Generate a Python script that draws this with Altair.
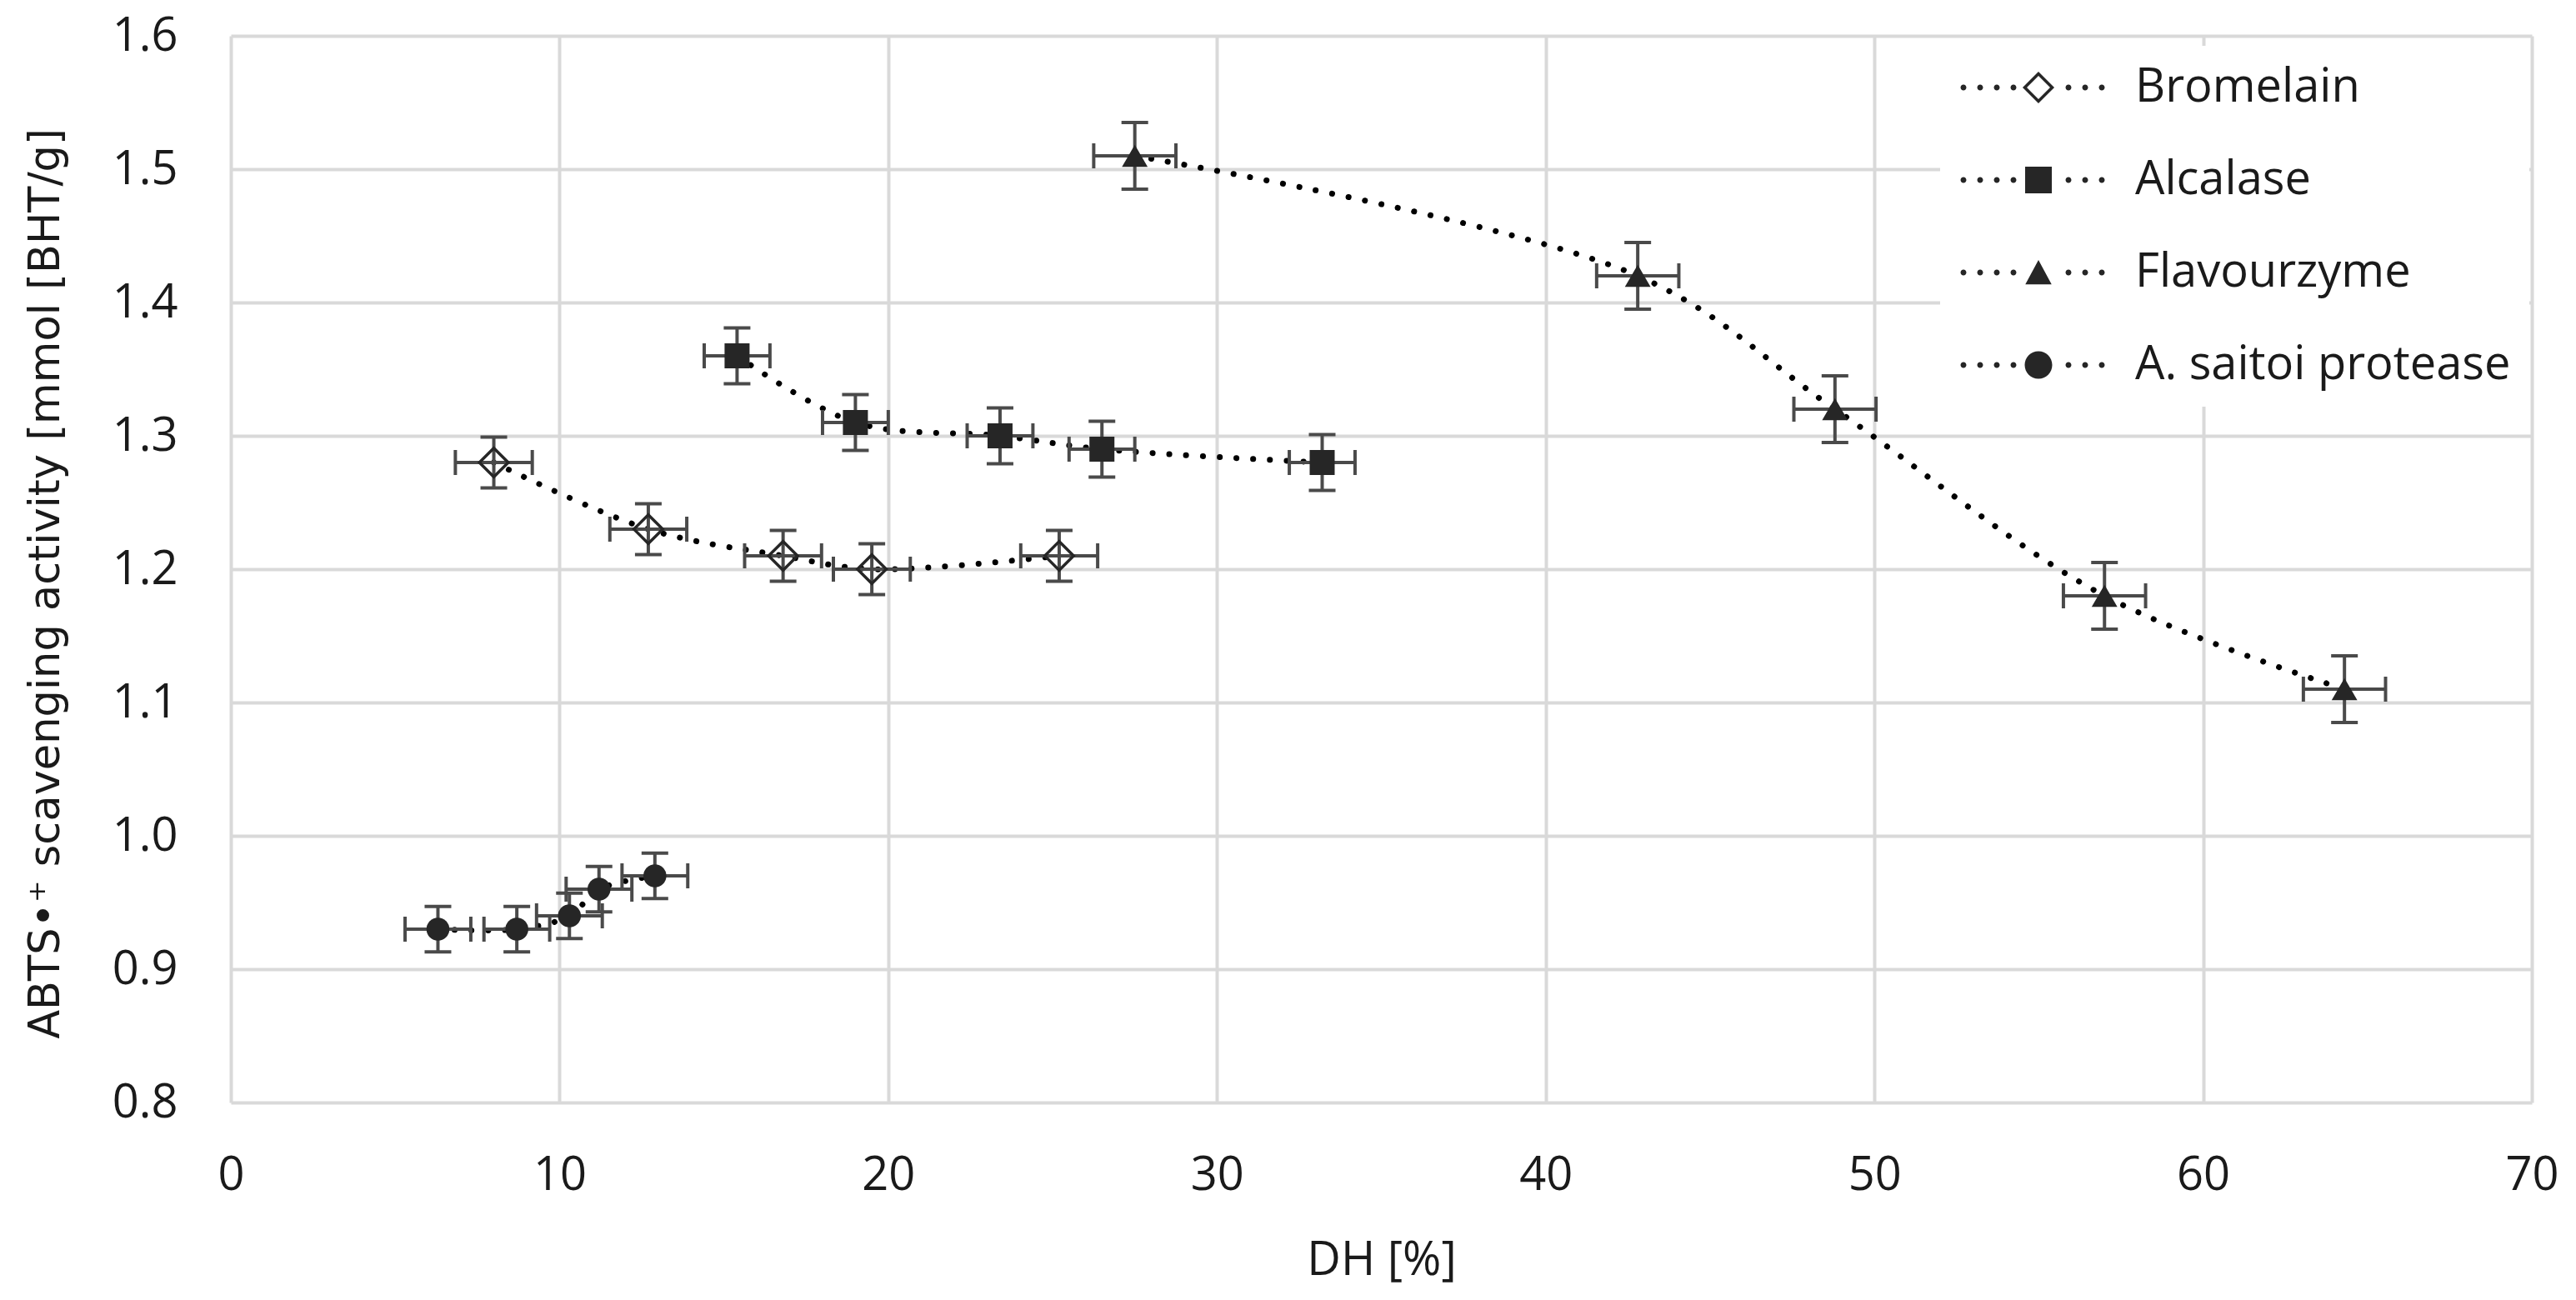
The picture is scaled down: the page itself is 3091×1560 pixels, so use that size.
import altair as alt
import pandas as pd

# ---------------- data ----------------
series_names = ["Bromelain", "Alcalase", "Flavourzyme", "A. saitoi protease"]

bromelain_dh = [8.0, 12.7, 16.8, 19.5, 25.2]
bromelain_abts = [1.28, 1.23, 1.21, 1.20, 1.21]

alcalase_dh = [15.4, 19.0, 23.4, 26.5, 33.2]
alcalase_abts = [1.36, 1.31, 1.30, 1.29, 1.28]

flavourzyme_dh = [27.5, 42.8, 48.8, 57.0, 64.3]
flavourzyme_abts = [1.51, 1.42, 1.32, 1.18, 1.11]

saitoi_dh = [6.3, 8.7, 10.3, 11.2, 12.9]
saitoi_abts = [0.93, 0.93, 0.94, 0.96, 0.97]

# error bar half-widths per series
dh_err = [1.17, 1.0, 1.25, 1.0]
abts_err = [0.019, 0.021, 0.025, 0.017]

x_ticks = [0, 10, 20, 30, 40, 50, 60, 70]
y_ticks = [0.8, 0.9, 1.0, 1.1, 1.2, 1.3, 1.4, 1.5, 1.6]

# ---------------- table ----------------
rows = []
for name, xs, ys, ex, ey in zip(
    series_names,
    [bromelain_dh, alcalase_dh, flavourzyme_dh, saitoi_dh],
    [bromelain_abts, alcalase_abts, flavourzyme_abts, saitoi_abts],
    dh_err,
    abts_err,
):
    for xv, yv in zip(xs, ys):
        rows.append(dict(series=name, dh=xv, abts=yv,
                         xlo=xv - ex, xhi=xv + ex, ylo=yv - ey, yhi=yv + ey))
df = pd.DataFrame(rows)

# ---------------- styling ----------------
FONT = "Open Sans"
TXT = "#1a1a1a"
GRID = "#d9d9d9"
EB = "#4a4a4a"
MK = "#262626"

XS = alt.Scale(domain=[0, 70], nice=False, zero=False)
YS = alt.Scale(domain=[0.8, 1.6], nice=False, zero=False)

x_axis = alt.Axis(
    values=x_ticks, title="DH [%]", grid=True, gridColor=GRID, gridWidth=4,
    domain=False, ticks=False, tickSize=0, labelFont=FONT, labelFontSize=56,
    labelColor=TXT, labelPadding=87, labelBaseline="middle", labelFlush=False,
    labelOverlap=False, titleFont=FONT, titleFontSize=56, titleColor=TXT,
    titleFontWeight="normal", titleX=1380.5, titleY=189, titleBaseline="middle",
    titleAlign="center",
)
y_axis = alt.Axis(
    values=y_ticks, format=".1f", title="ABTS•⁺ scavenging activity [mmol [BHT/g]",
    grid=True, gridColor=GRID, gridWidth=4, domain=False, ticks=False, tickSize=0,
    labelFont=FONT, labelFontSize=56, labelColor=TXT, labelPadding=64,
    labelOverlap=False, titleFont="DejaVu Sans", titleFontSize=51, titleColor=TXT,
    titleFontWeight="normal", titleX=-207, titleY=657, titleBaseline="alphabetic",
    titleAlign="center", titleAngle=270,
)


def X(field):
    return alt.X(f"{field}:Q", scale=XS, axis=x_axis)


def Y(field):
    return alt.Y(f"{field}:Q", scale=YS, axis=y_axis)


base = alt.Chart(df)

lines = base.mark_line(
    interpolate="catmull-rom", color="#000000", strokeWidth=7,
    strokeDash=[0.1, 20], strokeCap="round",
).encode(x=X("dh"), y=Y("abts"), detail="series:N")

verr = base.mark_rule(color=EB, strokeWidth=4).encode(
    x=X("dh"), y=Y("ylo"), y2="yhi:Q")
herr = base.mark_rule(color=EB, strokeWidth=4).encode(
    x=X("xlo"), x2="xhi:Q", y=Y("abts"))

caps = []
for yf in ["ylo", "yhi"]:
    caps.append(base.mark_tick(orient="horizontal", size=32, thickness=4,
                               color=EB, opacity=1).encode(x=X("dh"), y=Y(yf)))
for xf in ["xlo", "xhi"]:
    caps.append(base.mark_tick(orient="vertical", size=30, thickness=4,
                               color=EB, opacity=1).encode(x=X(xf), y=Y("abts")))

marker_style = {
    "Bromelain": dict(shape="diamond", filled=False, size=1200, strokeWidth=3.5),
    "Alcalase": dict(shape="square", filled=True, size=900),
    "Flavourzyme": dict(shape="triangle-up", filled=True, size=950),
    "A. saitoi protease": dict(shape="circle", filled=True, size=760),
}
points = []
for name in series_names:
    st = marker_style[name]
    points.append(
        base.transform_filter(alt.datum.series == name)
        .mark_point(color=MK, opacity=1, **st)
        .encode(x=X("dh"), y=Y("abts"))
    )

# ---------------- legend symbols: dotted line + marker, as SVG paths ----------------
U = 15.0  # px per unit for symbol size 900


def dot_path(px_list, r_px=3.5):
    r = r_px / U
    s = ""
    for p in px_list:
        c = p / U
        s += (f"M{c - r:.3f},0A{r:.3f},{r:.3f},0,1,0,{c + r:.3f},0"
              f"A{r:.3f},{r:.3f},0,1,0,{c - r:.3f},0Z")
    return s


dots = dot_path([-90, -70, -50, -30, 36, 56, 76])
o, i = 19 / U, 14 / U
diamond_ring = (f"M0,{-o:.3f}L{o:.3f},0L0,{o:.3f}L{-o:.3f},0Z"
                f"M0,{-i:.3f}L{-i:.3f},0L0,{i:.3f}L{i:.3f},0Z")
q = 16 / U
square = f"M{-q:.3f},{-q:.3f}L{q:.3f},{-q:.3f}L{q:.3f},{q:.3f}L{-q:.3f},{q:.3f}Z"
triangle = "M0,-1.0L1.05,0.95L-1.05,0.95Z"
cr = 16.5 / U
circle = (f"M{-cr:.3f},0A{cr:.3f},{cr:.3f},0,1,0,{cr:.3f},0"
          f"A{cr:.3f},{cr:.3f},0,1,0,{-cr:.3f},0Z")
legend_paths = [diamond_ring + dots, square + dots, triangle + dots, circle + dots]

# legend-only layer: draws no marks (empty after filter), but carries the legend
legend_layer = base.transform_filter("false").mark_point(
    filled=True, color=MK, opacity=1, size=900
).encode(
    x=X("dh"),
    y=Y("abts"),
    shape=alt.Shape(
        "series:N",
        scale=alt.Scale(domain=series_names, range=legend_paths),
        legend=alt.Legend(
            orient="none", legendX=2051, legendY=12, title=None,
            direction="vertical", labelFont=FONT, labelFontSize=56,
            labelColor=TXT, labelOffset=88, symbolOffset=68, symbolSize=900,
            symbolStrokeWidth=0, symbolFillColor=MK, symbolOpacity=1,
            rowPadding=55, padding=22, fillColor="white", labelLimit=2000,
        ),
    ),
)

chart = (
    alt.layer(lines, herr, verr, *caps, *points, legend_layer)
    .properties(
        width=2761, height=1280,
        padding={"left": 269, "top": 35, "right": 45, "bottom": 229},
        autosize=alt.AutoSizeParams(type="none"),
        background="white",
    )
    .configure_view(stroke=None)
)

chart.save("out.html", embed_options={"renderer": "svg", "actions": False})
